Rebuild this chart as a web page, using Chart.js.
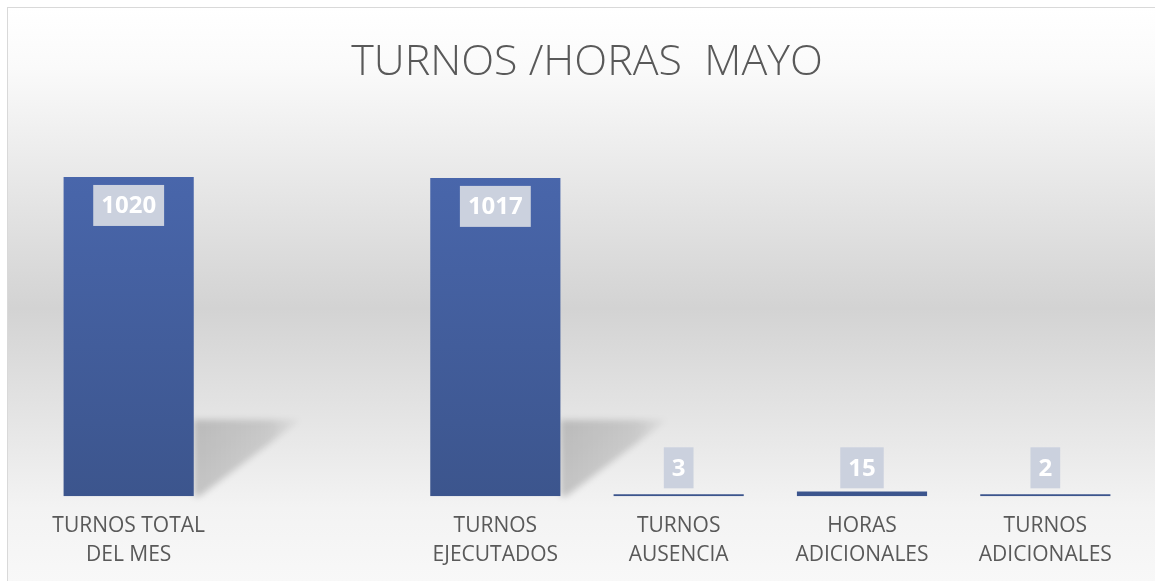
<!DOCTYPE html>
<html>
<head>
<meta charset="utf-8">
<script src="https://cdn.jsdelivr.net/npm/chart.js@4/dist/chart.umd.min.js"></script>
<style>
  html, body { margin: 0; padding: 0; background: #fff; overflow: hidden; }
  #box {
    position: absolute; left: 7px; top: 7px; width: 1158px; height: 577px;
    border-top: 1px solid #d9d9d9; border-left: 1px solid #d9d9d9;
    background: linear-gradient(to bottom, #ffffff 0px, #fafafa 60px, #d3d3d3 300px, #f3f3f3 500px, #f8f8f8 574px);
  }
</style>
</head>
<body>
<div id="box"><canvas id="myChart"></canvas></div>
<script>
const categorias = [
  ['TURNOS TOTAL', 'DEL MES'],
  '',
  ['TURNOS', 'EJECUTADOS'],
  ['TURNOS', 'AUSENCIA'],
  ['HORAS', 'ADICIONALES'],
  ['TURNOS', 'ADICIONALES']
]
const valores = [1020, null, 1017, 3, 15, 2]
const titulo = 'TURNOS /HORAS  MAYO'

// sombras y etiquetas tipo excel
const barDecor = {
  id: 'barDecor',
  beforeDatasetsDraw(chart) {
    const ctx = chart.ctx
    chart.getDatasetMeta(0).data.forEach((bar, i) => {
      if (valores[i] == null) return
      const h = bar.base - bar.y
      if (h < 100) return
      const right = bar.x + bar.width / 2
      const sh = h * 0.24, sw = h * 0.335
      ctx.save()
      ctx.filter = 'blur(3px)'
      const g = ctx.createLinearGradient(right, 0, right + sw, 0)
      g.addColorStop(0, 'rgba(0,0,0,0.19)')
      g.addColorStop(0.7, 'rgba(0,0,0,0.13)')
      g.addColorStop(1, 'rgba(0,0,0,0.02)')
      ctx.fillStyle = g
      ctx.beginPath()
      ctx.moveTo(right, bar.base - sh)
      ctx.lineTo(right + sw, bar.base - sh)
      ctx.lineTo(right + 6, bar.base)
      ctx.lineTo(right, bar.base)
      ctx.closePath()
      ctx.fill()
      ctx.restore()
    })
  },
  afterDatasetsDraw(chart) {
    const ctx = chart.ctx
    chart.getDatasetMeta(0).data.forEach((bar, i) => {
      const v = valores[i]
      if (v == null) return
      const txt = String(v)
      ctx.save()
      ctx.font = 'bold 24px "Open Sans"'
      const tw = ctx.measureText(txt).width
      const bw = tw + 16, bh = 41
      const h = bar.base - bar.y
      const top = h > 60 ? bar.y + 8 : bar.base - 8 - bh
      ctx.fillStyle = '#cbd1de'
      ctx.fillRect(bar.x - bw / 2, top, bw, bh)
      ctx.fillStyle = '#ffffff'
      ctx.textAlign = 'center'
      ctx.textBaseline = 'middle'
      ctx.fillText(txt, bar.x, top + bh / 2 + 1)
      ctx.restore()
    })
  }
}

const canvas = document.getElementById('myChart')
new Chart(canvas, {
  type: 'bar',
  data: {
    labels: categorias,
    datasets: [{
      data: valores,
      backgroundColor(c) {
        const a = c.chart.chartArea
        if (!a) return '#4462a5'
        const g = c.chart.ctx.createLinearGradient(0, a.top, 0, a.bottom)
        g.addColorStop(0, '#4b69b0')
        g.addColorStop(1, '#3c558d')
        return g
      },
      categoryPercentage: 1,
      barPercentage: 0.71,
      minBarLength: 2
    }]
  },
  options: {
    responsive: true,
    maintainAspectRatio: false,
    animation: false,
    layout: { padding: { left: 29, right: 29, top: 0, bottom: 0 } },
    plugins: {
      legend: { display: false },
      tooltip: { enabled: false },
      title: {
        display: true,
        text: titulo,
        color: '#595959',
        font: { family: 'Open Sans', size: 43, weight: '300', lineHeight: 1.2 },
        padding: { top: 29, bottom: 32 }
      }
    },
    scales: {
      x: {
        grid: { display: false, drawTicks: false },
        border: { display: false },
        ticks: {
          color: '#595959',
          font: { family: 'Open Sans', size: 21, lineHeight: 1.35 },
          padding: 16,
          maxRotation: 0,
          autoSkip: false
        }
      },
      y: {
        display: false,
        min: 0,
        max: 1200
      }
    }
  },
  plugins: [barDecor]
})
</script>
</body>
</html>
